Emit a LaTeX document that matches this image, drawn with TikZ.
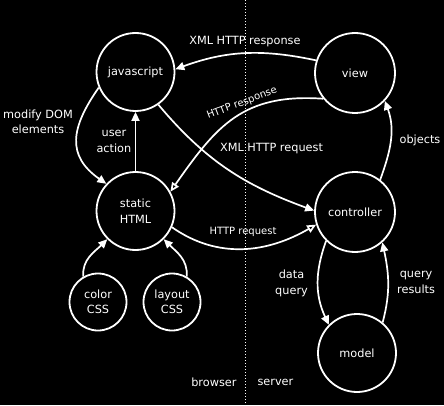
\documentclass[tikz,border=0pt]{standalone}
\usepackage{fontspec}
\setmainfont{DejaVu Sans}
\usepackage{xcolor}
\usepackage{tikz}
\usetikzlibrary{positioning, arrows.meta}
\definecolor{mvcbg}{HTML}{000000}
\definecolor{mvcline}{HTML}{FFFFFF}

\begin{document}
\begin{tikzpicture}[x=1pt, y=1pt,
  every node/.style={text=mvcline, font=\fontsize{11.3}{15.5}\selectfont},
  part/.style={circle, draw=mvcline, line width=1.8pt, inner sep=0pt, align=center},
  bigpart/.style={part, minimum size=78pt},
  smallpart/.style={part, minimum size=57pt},
  flow/.style={draw=mvcline, line width=1.7pt, -{Triangle[length=9pt, width=8pt]}},
  httpflow/.style={draw=mvcline, line width=1.7pt, -{Triangle[open, length=9pt, width=8pt]}},
  note/.style={align=center},
  smallnote/.style={font=\fontsize{10}{12}\selectfont}]
  % background and page size
  \fill[mvcbg] (0,0) rectangle (444,405);
  \useasboundingbox (0,0) rectangle (444,405);

  % browser / server split
  \coordinate (splittop) at (245,405);
  \coordinate (splitbot) at (245,0);
  \coordinate (split) at (245,23);
  \draw[mvcline, line width=0.9pt, dash pattern=on 1pt off 2pt] (splittop) -- (splitbot);
  \node[left=5pt of split] (browser) {browser};
  \node[right=9pt of split] (server) {server};

  % browser side
  \node[bigpart] (js) at (135.5,333) {javascript};
  \node[bigpart] (html) at (135.5,194) {static\\HTML};
  \node[smallpart] (color) at (98,103) {color\\CSS};
  \node[smallpart] (layout) at (172,103) {layout\\CSS};

  % server side
  \node[bigpart, minimum size=80pt] (view) at (355,332) {view};
  \node[bigpart, minimum size=80pt] (ctrl) at (355,193) {controller};
  \node[bigpart] (model) at (357,52) {model};

  % browser arrows
  \draw[flow] (html) -- node[midway, left, note] (lbluser) {user\\action} (js);
  \draw[flow] (js.203) to[out=235, in=145, looseness=1.3] (html.137);
  \node[note] (lbldom) at (38,283) {modify DOM\\elements};
  \draw[flow] (color.120) to[out=95, in=225] (html.225);
  \draw[flow] (layout.60) to[out=85, in=-45] (html.-45);

  % requests and responses
  \draw[flow] (view.162) to[out=168, in=20]
    node[pos=0.5, above=2pt] (lblxhrresp) {XML HTTP response} (js.4);
  \draw[httpflow] (view.219) to[out=176, in=55, looseness=1.15]
    node[pos=0.42, above, rotate=21, smallnote] (lblhttpresp) {HTTP response} (html.29);
  \draw[flow] (js.-55) to[out=-50, in=160] (ctrl.178);
  \node (lblxhrreq) at (271.5,256) {XML HTTP request};
  \draw[httpflow] (html.-24) to[out=-35, in=210]
    node[pos=0.5, above=8pt, smallnote] (lblhttpreq) {HTTP request} (ctrl.198);

  % server arrows
  \draw[flow] (ctrl.225) to[out=250, in=115]
    node[midway, left=6pt, note] (lblquery) {data\\query} (model.135);
  \draw[flow] (model.50) to[out=75, in=-78]
    node[midway, right=5pt, note] (lblresults) {query\\results} (ctrl.-48);
  \draw[flow] (ctrl.52) to[out=70, in=-70]
    node[midway, right=5pt] (lblobjects) {objects} (view.-43);
\end{tikzpicture}
\end{document}
